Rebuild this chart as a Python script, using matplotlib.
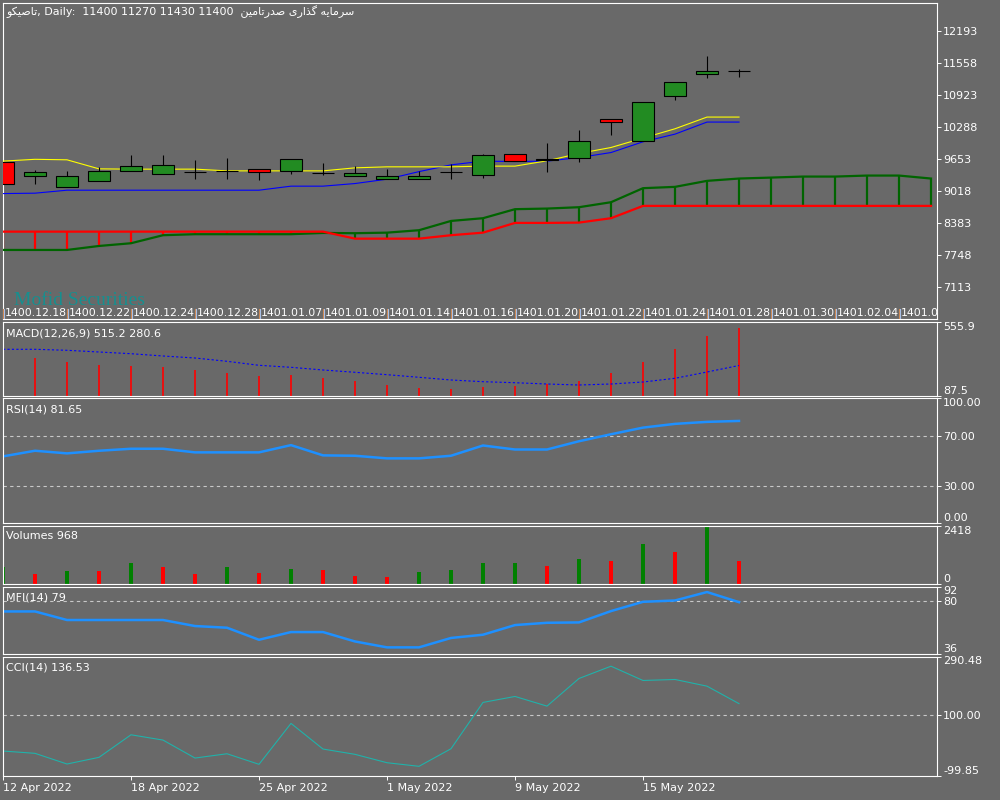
import numpy as np
import matplotlib
matplotlib.use('Agg')
import matplotlib.pyplot as plt
from matplotlib.patches import Rectangle
from matplotlib.transforms import blended_transform_factory

plt.rcParams['font.family'] = ['DejaVu Sans']

BG = '#696969'
W, H = 1000, 800
FS = 8

# ---- data ----
symbol = 'تاصیکو'
company = 'سرمایه گذاری صدرتامین'
last_ohlc = '11400 11270 11430 11400'

opens  = [9588, 9310, 9092, 9211, 9421, 9350, 9390, 9415, 9449, 9409, 9370, 9310,
          9263, 9263, 9390, 9330, 9747, 9630, 9673, 10447, 10005, 10897, 11334, 11400]
highs  = [9588, 9435, 9409, 9495, 9733, 9733, 9634, 9673, 9449, 9648, 9574, 9515,
          9455, 9409, 9548, 9752, 9747, 9971, 10229, 10447, 10784, 11181, 11697, 11430]
lows   = [9157, 9164, 9092, 9211, 9421, 9350, 9263, 9263, 9243, 9362, 9336, 9310,
          9263, 9263, 9257, 9277, 9620, 9402, 9600, 10124, 10005, 10818, 11247, 11270]
closes = [9157, 9390, 9310, 9409, 9509, 9528, 9390, 9415, 9390, 9648, 9370, 9370,
          9310, 9310, 9390, 9727, 9620, 9650, 10005, 10382, 10784, 11181, 11393, 11400]

yellow_line = [9608, 9644, 9634, 9455, 9449, 9449, 9449, 9415, 9415, 9415, 9415, 9475,
               9495, 9495, 9495, 9509, 9509, 9614, 9760, 9878, 10064, 10249, 10481, 10481]
blue_line = [8965, 8973, 9032, 9032, 9032, 9032, 9032, 9032, 9032, 9112, 9112, 9164,
             9250, 9400, 9534, 9608, 9600, 9608, 9679, 9778, 9991, 10143, 10382, 10382]

cloud_red = [8211, 8211, 8211, 8211, 8211, 8211, 8211, 8211, 8211, 8211, 8211, 8072,
             8072, 8072, 8140, 8191, 8384, 8384, 8390, 8477, 8721, 8721, 8721, 8721,
             8721, 8721, 8721, 8721, 8721, 8721]
cloud_green = [7848, 7848, 7848, 7927, 7981, 8140, 8160, 8160, 8160, 8160, 8185, 8180,
               8191, 8239, 8423, 8477, 8656, 8668, 8695, 8794, 9072, 9098, 9217, 9263,
               9282, 9302, 9302, 9322, 9322, 9263]

price_ticks = [12193, 11558, 10923, 10288, 9653, 9018, 8383, 7748, 7113]

macd_hist = [335, 328, 302.7, 285.6, 277.4, 271, 252.1, 233.1, 216, 220.4, 201.4, 182.4,
             157.1, 140, 131.8, 144.4, 152.7, 161.5, 182.4, 233.1, 302.7, 385, 467.3, 515.2]
macd_signal = [383.1, 383.1, 376.8, 366, 355.2, 340.7, 328, 307.1, 281.8, 269.1, 252.1, 237.6,
               222.4, 205.9, 188.8, 178, 171.6, 163.4, 157.1, 163.4, 176.1, 199.5, 239.4, 280.6]

rsi = [53.3, 57.8, 55.7, 57.8, 59.4, 59.4, 56.5, 56.5, 56.5, 62.3, 54.1, 53.8,
       51.7, 51.7, 53.8, 62.0, 58.8, 58.8, 65.4, 71.0, 76.3, 79.3, 80.9, 81.65]

volumes = [691, 394, 551, 540, 848, 721, 394, 721, 466, 636, 594, 339,
           297, 509, 594, 848, 860, 763, 1018, 933, 1654, 1314, 2418, 968]

mfi = [71.3, 71.3, 64.2, 64.2, 64.2, 64.2, 59.2, 57.8, 47.8, 54.2, 54.2, 46.4,
       41.5, 41.5, 49.3, 52.0, 60.0, 61.9, 62.2, 71.6, 79.3, 80.4, 87.4, 79.0]

cci = [-18.3, -25.8, -60.7, -38.9, 34.8, 17.5, -41.2, -27.2, -61.7, 72.0, -11.8, -29.1,
       -56.5, -68.2, -10.8, 140.5, 160.0, 128.4, 218.7, 258.8, 212.2, 215.4, 193.6, 136.53]

shamsi_dates = ['1400.12.18', '1400.12.22', '1400.12.24', '1400.12.28', '1401.01.07',
                '1401.01.09', '1401.01.14', '1401.01.16', '1401.01.20', '1401.01.22',
                '1401.01.24', '1401.01.28', '1401.01.30', '1401.02.04', '1401.02.06']
greg_bars = [0, 4, 8, 12, 16, 20]
greg_labels = ['12 Apr 2022', '18 Apr 2022', '25 Apr 2022', '1 May 2022', '9 May 2022', '15 May 2022']


# ---- minimal persian shaping (matplotlib has no arabic shaping / bidi) ----
FORMS = {
    'ا': ('\uFE8D', '\uFE8E', None, None),
    'ت': ('\uFE95', '\uFE96', '\uFE97', '\uFE98'),
    'د': ('\uFEA9', '\uFEAA', None, None),
    'ذ': ('\uFEAB', '\uFEAC', None, None),
    'ر': ('\uFEAD', '\uFEAE', None, None),
    'س': ('\uFEB1', '\uFEB2', '\uFEB3', '\uFEB4'),
    'ص': ('\uFEB9', '\uFEBA', '\uFEBB', '\uFEBC'),
    'م': ('\uFEE1', '\uFEE2', '\uFEE3', '\uFEE4'),
    'ن': ('\uFEE5', '\uFEE6', '\uFEE7', '\uFEE8'),
    'ه': ('\uFEE9', '\uFEEA', '\uFEEB', '\uFEEC'),
    'و': ('\uFEED', '\uFEEE', None, None),
    '\u06CC': ('\uFBFC', '\uFBFD', '\uFBFE', '\uFBFF'),
    '\u064A': ('\uFBFC', '\uFBFD', '\uFBFE', '\uFBFF'),
    '\u06A9': ('\uFB8E', '\uFB8F', '\uFB90', '\uFB91'),
    '\u0643': ('\uFB8E', '\uFB8F', '\uFB90', '\uFB91'),
    'گ': ('\uFB92', '\uFB93', '\uFB94', '\uFB95'),
}


def shape(text):
    out = []
    for i, ch in enumerate(text):
        if ch not in FORMS:
            out.append(ch)
            continue
        prev = text[i - 1] if i > 0 else ''
        nxt = text[i + 1] if i + 1 < len(text) else ''
        join_prev = prev in FORMS and FORMS[prev][2] is not None
        join_next = nxt in FORMS and FORMS[ch][2] is not None
        iso, fin, ini, med = FORMS[ch]
        if join_prev and join_next:
            out.append(med)
        elif join_prev:
            out.append(fin)
        elif join_next:
            out.append(ini)
        else:
            out.append(iso)
    return ''.join(reversed(out))


def px_axes(top, bottom, left=3, right=937):
    return fig.add_axes([left / W, 1 - bottom / H, (right - left) / W, (bottom - top) / H])


def style_panel(ax, ylim, ticks, labels, edge_va=True):
    ax.set_facecolor(BG)
    ax.set_xlim(0, 934 / 32)
    ax.set_ylim(*ylim)
    for s in ax.spines.values():
        s.set_color('white')
        s.set_linewidth(0.8)
    ax.set_xticks([])
    ax.yaxis.tick_right()
    ax.set_yticks(ticks)
    ax.set_yticklabels(labels)
    ax.tick_params(axis='y', colors='white', length=3, width=0.7, labelsize=FS, pad=1.5)
    if edge_va:
        for t, v in zip(ax.yaxis.get_major_ticks(), ticks):
            if v == ylim[1]:
                t.label2.set_va('top')
            elif v == ylim[0]:
                t.label2.set_va('bottom')


def label(x, y, s, **kw):
    fig.text(x / W, 1 - y / H, s, color='white', fontsize=FS, va='center', **kw)


fig = plt.figure(figsize=(W / 100, H / 100), dpi=100, facecolor=BG)

n = len(closes)
xs = np.arange(n)
xc = np.arange(len(cloud_red))

# ---- main price panel ----
ax = px_axes(3, 319)
style_panel(ax, (6480, 12741), price_ticks, [str(p) for p in price_ticks], edge_va=False)

cr = np.array(cloud_red)
cg = np.array(cloud_green)
for i in xc:
    col = '#FF0000' if cr[i] > cg[i] else '#006400'
    ax.vlines(i, min(cr[i], cg[i]), max(cr[i], cg[i]), color=col, lw=1.6, zorder=2)
ax.plot(xc, cg, color='#006400', lw=1.6, zorder=3)
ax.plot(xc, cr, color='#FF0000', lw=1.6, zorder=3)

ax.plot(xs, blue_line, color='#0000FF', lw=0.8, zorder=4)
ax.plot(xs, yellow_line, color='#FFFF00', lw=0.8, zorder=4)

body_w = 0.69
for i in range(n):
    o, h, l, c = opens[i], highs[i], lows[i], closes[i]
    ax.vlines(i, l, h, color='black', lw=0.8, zorder=5)
    fc = '#228B22' if c >= o else '#FF0000'
    ax.add_patch(Rectangle((i - body_w / 2, min(o, c)), body_w, abs(c - o),
                           facecolor=fc, edgecolor='black', lw=0.8, zorder=6))

trans = blended_transform_factory(ax.transData, ax.transAxes)
for k, d in enumerate(shamsi_dates):
    x = 2 * k
    ax.plot([x, x], [0, 0.032], transform=trans, color='#D08850', lw=0.8, zorder=7)
    ax.plot([x + 0.03, x + 0.03], [0, 0.032], transform=trans, color='#A8C0E8', lw=0.8, zorder=7)
    ax.text(x + 0.06, 0.004, d, transform=trans, color='white', fontsize=7.8,
            va='bottom', ha='left', clip_on=True, zorder=7)

fig.text(14 / W, 1 - 305 / H, 'Mofid Securities', color='#178F8F', fontsize=14,
         family='Liberation Serif', va='baseline')

title = shape(symbol) + ', Daily:  ' + last_ohlc + '  ' + shape(company)
label(6, 12, title)

# ---- MACD ----
ax = px_axes(322, 396)
style_panel(ax, (87.5, 555.9), [87.5, 555.9], ['87.5', '555.9'])
ax.vlines(xs, 0, macd_hist, color='#FF0000', lw=1.2)
ax.plot(xs, macd_signal, color='#0000FF', lw=0.8, ls=(0, (2, 2)))
label(6, 333, 'MACD(12,26,9) %.1f %.1f' % (macd_hist[-1], macd_signal[-1]))

# ---- RSI ----
ax = px_axes(398, 523)
style_panel(ax, (0, 100), [0, 30, 70, 100], ['0.00', '30.00', '70.00', '100.00'])
for lv in (30, 70):
    ax.axhline(lv, color='#C8C8C8', lw=0.8, ls=(0, (3, 3)))
ax.plot(xs, rsi, color='#1E90FF', lw=1.8)
label(6, 409, 'RSI(14) %.2f' % rsi[-1])

# ---- Volumes ----
ax = px_axes(525.5, 584)
style_panel(ax, (0, 2418), [0, 2418], ['0', '2418'])
vol_cols = ['#008000'] + ['#008000' if volumes[i] > volumes[i - 1] else '#FF0000' for i in range(1, n)]
ax.bar(xs, volumes, width=4 / 32, color=vol_cols)
label(6, 536, 'Volumes %d' % volumes[-1])

# ---- MFI ----
ax = px_axes(586.5, 654)
style_panel(ax, (36, 92), [36, 80, 92], ['36', '80', '92'])
ax.axhline(80, color='#C8C8C8', lw=0.8, ls=(0, (3, 3)))
ax.plot(xs, mfi, color='#1E90FF', lw=1.8)
label(6, 597, 'MFI(14) %d' % round(mfi[-1]))

# ---- CCI ----
ax = px_axes(656.5, 776)
style_panel(ax, (-99.85, 290.48), [-99.85, 100, 290.48], ['-99.85', '100.00', '290.48'])
ax.axhline(100, color='#C8C8C8', lw=0.8, ls=(0, (3, 3)))
ax.plot(xs, cci, color='#20B2AA', lw=0.8)
label(6, 667, 'CCI(14) %.2f' % cci[-1])
ax.set_xticks(greg_bars)
ax.set_xticklabels(greg_labels, ha='left')
ax.tick_params(axis='x', colors='white', length=3, width=0.7, labelsize=FS, pad=2)

fig.savefig('out.png', dpi=100, facecolor=BG)
